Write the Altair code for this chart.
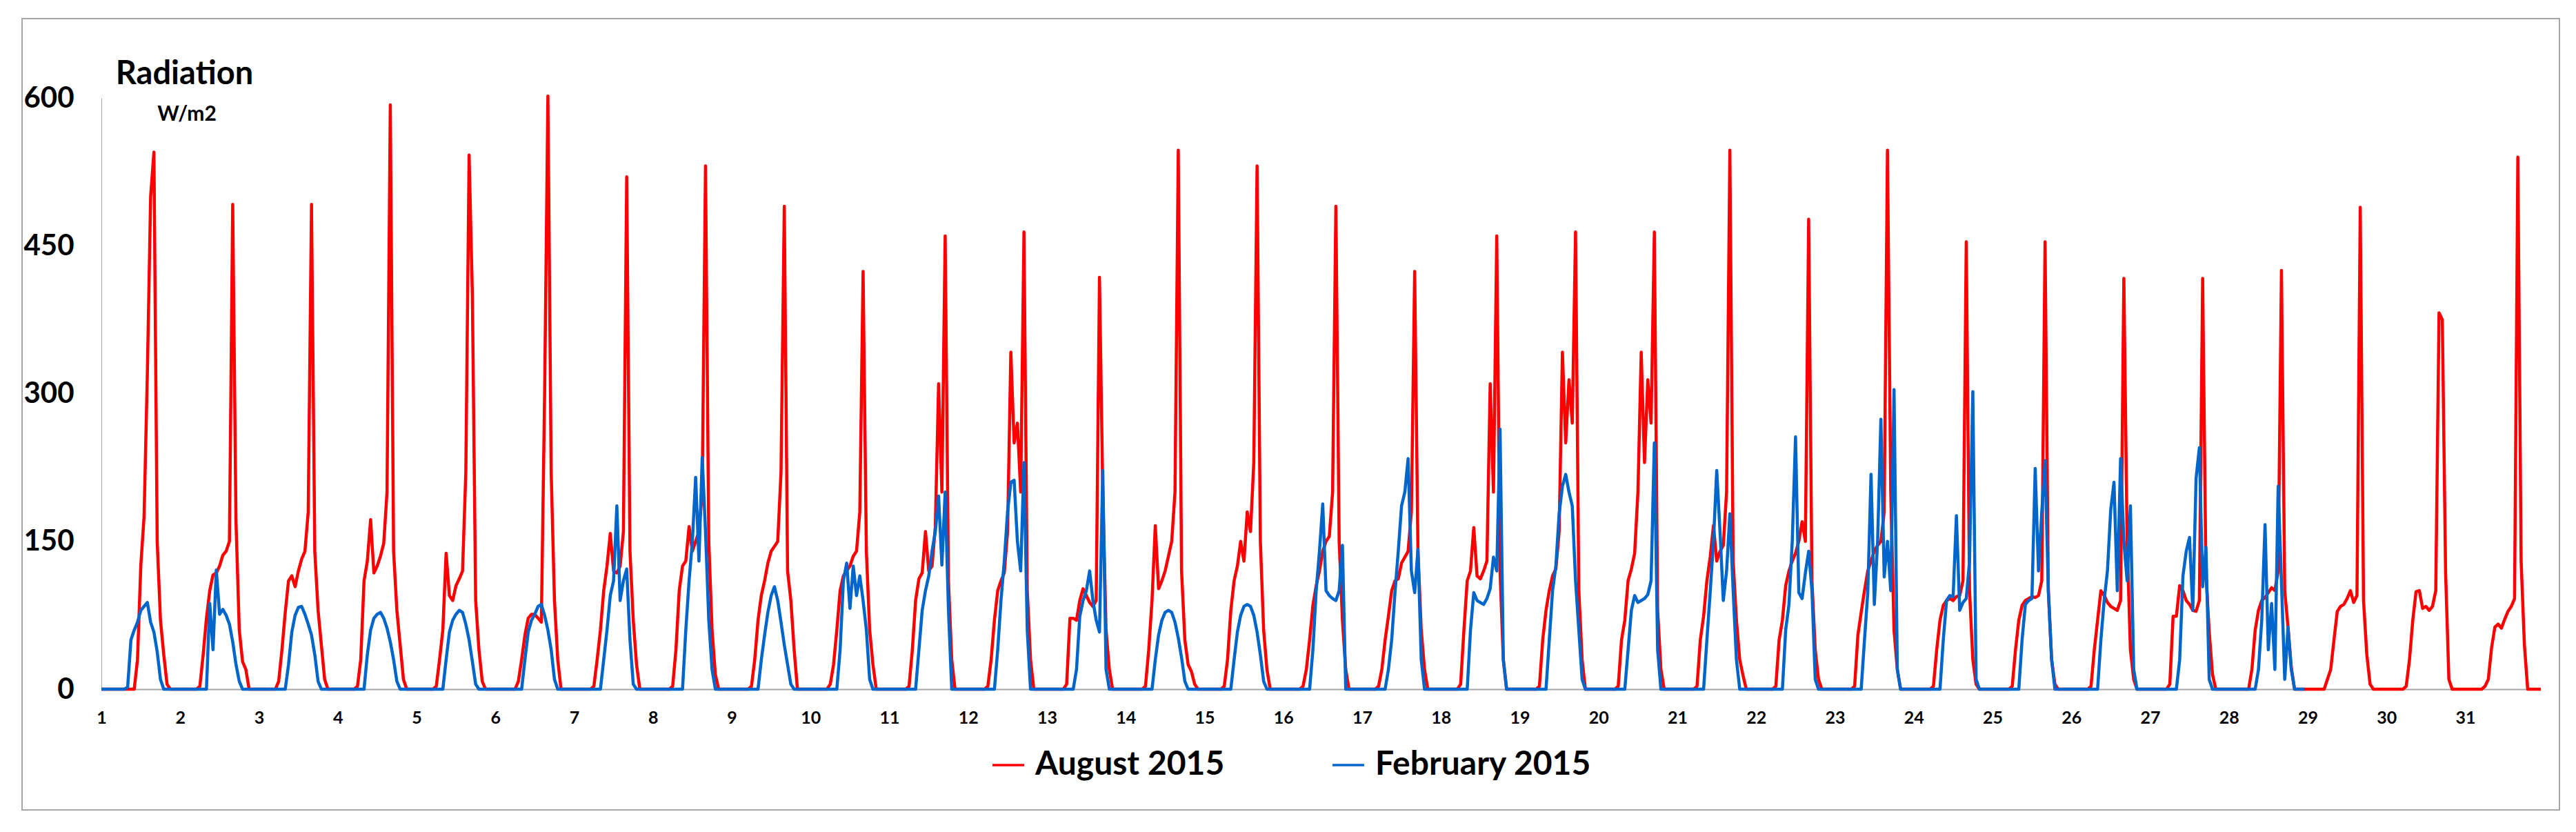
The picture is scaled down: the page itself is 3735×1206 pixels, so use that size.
import altair as alt
import pandas as pd

# ---------------- data ----------------
series_names = ["August 2015", "February 2015"]
series_colors = ["#ff0000", "#0066cc"]
day_ticks = [1, 2, 3, 4, 5, 6, 7, 8, 9, 10, 11, 12, 13, 14, 15, 16, 17, 18, 19, 20,
             21, 22, 23, 24, 25, 26, 27, 28, 29, 30, 31]
y_ticks = [0, 150, 300, 450, 600]

# hours of day covered by the lists below (all other hours are 0 W/m2)
aug_hours = [5, 6, 7, 8, 9, 10, 11, 12, 13, 14, 15, 16, 17, 18, 19, 20, 21]
feb_hours = [7, 8, 9, 10, 11, 12, 13, 14, 15, 16, 17, 18, 19, 20]

# August 2015, hourly radiation (W/m2), hours 5..21
aug_01 = [0, 0, 0, 0, 0, 0, 30, 125, 175, 320, 500, 545, 150, 70, 35, 5, 0]
aug_02 = [0, 3, 35, 72, 100, 116, 118, 125, 136, 140, 150, 492, 170, 60, 28, 20, 0]
aug_03 = [0, 8, 40, 78, 110, 115, 104, 120, 132, 140, 180, 492, 140, 80, 45, 10, 0]
aug_04 = [0, 3, 30, 110, 130, 172, 118, 125, 135, 148, 200, 593, 140, 80, 45, 10, 0]
aug_05 = [0, 3, 30, 60, 138, 95, 90, 105, 112, 120, 220, 542, 400, 90, 40, 8, 0]
aug_06 = [0, 0, 8, 30, 55, 72, 76, 76, 72, 68, 300, 602, 220, 90, 30, 0, 0]
aug_07 = [0, 3, 30, 60, 100, 125, 158, 120, 118, 125, 160, 520, 140, 70, 25, 0, 0]
aug_08 = [0, 3, 40, 100, 125, 130, 165, 140, 150, 160, 200, 531, 150, 60, 15, 0, 0]
aug_09 = [0, 3, 30, 70, 95, 110, 128, 140, 145, 150, 220, 490, 120, 90, 40, 0, 0]
aug_10 = [0, 5, 25, 60, 100, 115, 120, 125, 135, 140, 180, 424, 140, 60, 25, 0, 0]
aug_11 = [0, 3, 40, 90, 112, 118, 160, 120, 125, 165, 310, 200, 460, 110, 30, 0, 0]
aug_12 = [0, 3, 30, 70, 100, 110, 118, 160, 342, 250, 270, 200, 464, 100, 30, 0, 0]
aug_13 = [0, 5, 72, 72, 70, 90, 102, 95, 88, 84, 90, 418, 200, 60, 20, 0, 0]
aug_14 = [0, 3, 40, 90, 166, 102, 110, 120, 135, 150, 200, 547, 120, 50, 25, 18, 5]
aug_15 = [0, 3, 30, 80, 110, 125, 150, 130, 180, 160, 230, 531, 150, 60, 20, 0, 0]
aug_16 = [0, 3, 20, 50, 85, 105, 120, 140, 150, 155, 200, 490, 150, 70, 20, 0, 0]
aug_17 = [3, 20, 50, 74, 100, 110, 112, 128, 134, 140, 180, 424, 140, 60, 20, 0, 0]
aug_18 = [0, 5, 60, 110, 120, 164, 115, 112, 120, 130, 310, 200, 460, 120, 30, 0, 0]
aug_19 = [0, 3, 50, 80, 100, 115, 122, 160, 342, 250, 314, 270, 464, 100, 30, 0, 0]
aug_20 = [0, 3, 50, 70, 110, 122, 138, 200, 342, 230, 314, 270, 464, 80, 20, 0, 0]
aug_21 = [0, 3, 50, 74, 110, 134, 166, 130, 140, 146, 200, 547, 130, 70, 30, 14, 0]
aug_22 = [0, 3, 50, 70, 105, 120, 130, 138, 150, 170, 150, 477, 110, 40, 10, 0, 0]
aug_23 = [0, 3, 55, 78, 100, 120, 130, 140, 146, 150, 180, 547, 200, 60, 20, 0, 0]
aug_24 = [0, 3, 40, 70, 85, 90, 92, 90, 94, 95, 110, 454, 100, 30, 5, 0, 0]
aug_25 = [0, 3, 40, 70, 85, 90, 92, 94, 93, 95, 110, 454, 100, 30, 5, 0, 0]
aug_26 = [0, 3, 40, 70, 100, 95, 88, 84, 82, 80, 90, 417, 150, 40, 10, 0, 0]
aug_27 = [0, 5, 74, 74, 105, 100, 90, 86, 80, 79, 90, 417, 117, 58, 15, 0, 0]
aug_28 = [0, 0, 20, 60, 80, 90, 93, 98, 103, 100, 120, 425, 100, 63, 22, 0, 0]
aug_29 = [0, 10, 20, 50, 79, 84, 86, 92, 100, 88, 95, 489, 90, 35, 5, 0, 0]
aug_30 = [0, 3, 30, 70, 99, 100, 82, 84, 80, 84, 100, 382, 375, 118, 10, 0, 0]
aug_31 = [0, 3, 10, 42, 63, 66, 62, 71, 79, 84, 92, 540, 130, 45, 0, 0, 0]

# February 2015, hourly radiation (W/m2), hours 7..20
feb_01 = [0, 2, 50, 60, 68, 80, 84, 88, 68, 58, 38, 10, 0, 0]
feb_02 = [0, 0, 87, 40, 121, 76, 81, 75, 66, 48, 25, 8, 0, 0]
feb_03 = [0, 0, 25, 58, 75, 83, 84, 76, 66, 55, 35, 8, 0, 0]
feb_04 = [0, 0, 35, 60, 72, 76, 78, 72, 62, 48, 30, 8, 0, 0]
feb_05 = [0, 0, 30, 58, 70, 76, 80, 78, 66, 50, 28, 5, 0, 0]
feb_06 = [0, 0, 30, 58, 70, 76, 84, 86, 75, 60, 40, 10, 0, 0]
feb_07 = [0, 0, 30, 60, 95, 110, 186, 90, 110, 122, 50, 5, 0, 0]
feb_08 = [0, 0, 0, 60, 110, 150, 215, 130, 235, 160, 70, 20, 0, 0]
feb_09 = [0, 0, 30, 55, 78, 95, 104, 90, 68, 45, 25, 5, 0, 0]
feb_10 = [0, 0, 40, 110, 128, 82, 125, 95, 115, 90, 60, 10, 0, 0]
feb_11 = [0, 0, 40, 80, 100, 115, 140, 160, 196, 126, 200, 80, 0, 0]
feb_12 = [0, 0, 40, 90, 130, 180, 210, 212, 150, 120, 230, 60, 0, 0]
feb_13 = [0, 0, 20, 74, 90, 100, 120, 90, 70, 58, 222, 20, 0, 0]
feb_14 = [0, 0, 30, 55, 70, 78, 80, 78, 68, 52, 32, 8, 0, 0]
feb_15 = [0, 0, 30, 58, 75, 84, 86, 84, 75, 58, 35, 8, 0, 0]
feb_16 = [0, 0, 40, 100, 140, 188, 100, 95, 92, 90, 100, 146, 0, 0]
feb_17 = [0, 20, 50, 98, 140, 186, 200, 234, 120, 98, 142, 30, 0, 0]
feb_18 = [0, 0, 60, 98, 90, 88, 86, 92, 102, 134, 120, 264, 30, 0]
feb_19 = [0, 0, 50, 100, 125, 178, 206, 218, 200, 186, 110, 60, 10, 0]
feb_20 = [0, 0, 40, 80, 95, 88, 90, 92, 96, 110, 250, 40, 0, 0]
feb_21 = [0, 0, 50, 98, 150, 222, 160, 90, 120, 178, 100, 30, 0, 0]
feb_22 = [0, 0, 60, 86, 150, 256, 98, 92, 118, 140, 100, 10, 0, 0]
feb_23 = [0, 0, 50, 98, 218, 86, 150, 274, 114, 150, 100, 304, 20, 0]
feb_24 = [0, 0, 50, 90, 95, 94, 176, 80, 88, 92, 130, 302, 10, 0]
feb_25 = [0, 0, 50, 86, 90, 92, 224, 120, 180, 232, 100, 30, 0, 0]
feb_26 = [0, 0, 50, 90, 120, 182, 210, 100, 234, 150, 110, 186, 20, 0]
feb_27 = [0, 0, 30, 115, 140, 154, 80, 214, 245, 104, 144, 10, 0, 0]
feb_28 = [0, 0, 20, 70, 167, 40, 87, 20, 206, 109, 10, 63, 20, 0]

aug_days = [aug_01, aug_02, aug_03, aug_04, aug_05, aug_06, aug_07, aug_08, aug_09, aug_10,
            aug_11, aug_12, aug_13, aug_14, aug_15, aug_16, aug_17, aug_18, aug_19, aug_20,
            aug_21, aug_22, aug_23, aug_24, aug_25, aug_26, aug_27, aug_28, aug_29, aug_30,
            aug_31]
feb_days = [feb_01, feb_02, feb_03, feb_04, feb_05, feb_06, feb_07, feb_08, feb_09, feb_10,
            feb_11, feb_12, feb_13, feb_14, feb_15, feb_16, feb_17, feb_18, feb_19, feb_20,
            feb_21, feb_22, feb_23, feb_24, feb_25, feb_26, feb_27, feb_28]


def expand(days, hours, name):
    rows = []
    for d, vals in enumerate(days, start=1):
        lookup = dict(zip(hours, vals))
        for h in range(24):
            rows.append({"t": d + h / 24.0, "v": lookup.get(h, 0), "s": name})
    return rows


df = pd.DataFrame(expand(aug_days, aug_hours, series_names[0]) +
                  expand(feb_days, feb_hours, series_names[1]))

FONT = "Lato"

lines = alt.Chart(df).mark_line(strokeWidth=4.5, strokeJoin="round").encode(
    x=alt.X("t:Q",
            scale=alt.Scale(domain=[1, 31 + 23 / 24.0], nice=False, zero=False),
            axis=alt.Axis(values=day_ticks, format="d", title=None, grid=False,
                          ticks=False, tickSize=0, labelPadding=41, labelBaseline="middle",
                          labelFont=FONT, labelFontSize=25, labelFontWeight="bold",
                          labelColor="black", labelFlush=False, labelOverlap=False,
                          domainColor="#a6a6a6", domainWidth=2)),
    y=alt.Y("v:Q",
            scale=alt.Scale(domain=[0, 600], nice=False),
            title="Radiation",
            axis=alt.Axis(values=y_ticks, grid=False, ticks=False, tickSize=0,
                          labelPadding=40, labelFont=FONT, labelFontSize=42,
                          labelFontWeight="bold", labelColor="black",
                          domainColor="#a6a6a6", domainWidth=1,
                          titleAngle=0, titleX=120, titleY=-35, titleAlign="center",
                          titleBaseline="middle", titleFont=FONT, titleFontSize=47,
                          titleFontWeight="bold", titleColor="black")),
    color=alt.Color("s:N",
                    scale=alt.Scale(domain=series_names, range=series_colors),
                    title=None,
                    legend=alt.Legend(orient="none", legendX=1290, legendY=942,
                                      direction="horizontal", padding=0,
                                      labelFont=FONT, labelFontSize=48,
                                      labelFontWeight="bold", labelColor="black",
                                      labelLimit=1000,
                                      symbolType="stroke", symbolSize=2116,
                                      symbolStrokeWidth=3.5, labelOffset=14,
                                      columnPadding=149)),
)

frame = alt.Chart(alt.Data(values=[{"k": 1}])).mark_rect(
    fillOpacity=0, stroke="#a6a6a6", strokeWidth=2
).encode(x=alt.value(-115), x2=alt.value(3564), y=alt.value(-115), y2=alt.value(1032))

unit = alt.Chart(alt.Data(values=[{"u": "W/m2"}])).mark_text(
    font=FONT, fontSize=30, fontWeight="bold", color="black",
    align="center", baseline="middle"
).encode(x=alt.value(124), y=alt.value(24), text="u:N")

chart = alt.layer(frame, lines, unit).properties(
    width=3537, height=857,
    autosize=alt.AutoSizeParams(type="none"),
    padding={"left": 139, "top": 134, "right": 40, "bottom": 180},
    background="white",
).configure_view(strokeWidth=0)

chart.save("out.html", embed_options={"renderer": "svg", "actions": False})
